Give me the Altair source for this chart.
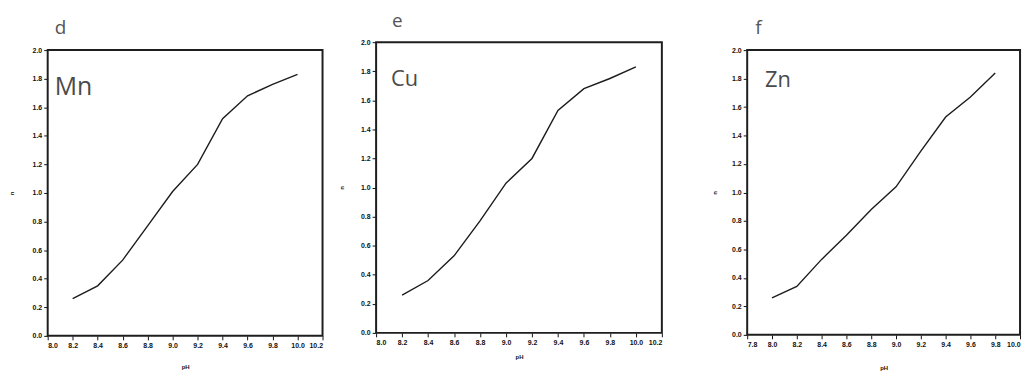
import altair as alt
import pandas as pd

# ---- data ----
ph_mn = [8.2, 8.4, 8.6, 8.8, 9.0, 9.2, 9.4, 9.6, 9.8, 10.0]
n_mn = [0.26, 0.35, 0.53, 0.77, 1.01, 1.20, 1.52, 1.68, 1.76, 1.83]

ph_cu = [8.2, 8.4, 8.6, 8.8, 9.0, 9.2, 9.4, 9.6, 9.8, 10.0]
n_cu = [0.26, 0.36, 0.53, 0.77, 1.03, 1.20, 1.53, 1.68, 1.75, 1.83]

ph_zn = [8.0, 8.2, 8.4, 8.6, 8.8, 9.0, 9.2, 9.4, 9.6, 9.8]
n_zn = [0.26, 0.34, 0.53, 0.70, 0.88, 1.04, 1.29, 1.53, 1.67, 1.84]

x_ticks_de = [8.0, 8.2, 8.4, 8.6, 8.8, 9.0, 9.2, 9.4, 9.6, 9.8, 10.0, 10.2]
x_ticks_f = [7.8, 8.0, 8.2, 8.4, 8.6, 8.8, 9.0, 9.2, 9.4, 9.6, 9.8, 10.0]
y_ticks = [0.0, 0.2, 0.4, 0.6, 0.8, 1.0, 1.2, 1.4, 1.6, 1.8, 2.0]

panel_letters = ["d", "e", "f"]
metals = ["Mn", "Cu", "Zn"]

FRAME = "#1e1e1e"


def panel(ph, n, xdom, xticks, letter, metal, W, H, top, L, R, T, B,
          ytx, xty, letter_x, letter_y, metal_x, metal_y, metal_size):
    """top: pixel position (view coords) of the y=2.0 edge of the frame (<=0)."""
    df = pd.DataFrame({"pH": ph, "n": n})
    x = alt.X(
        "pH:Q",
        scale=alt.Scale(domain=xdom, nice=False, zero=False),
        axis=alt.Axis(values=xticks, format=".1f", title="pH",
                      titleY=xty, titleBaseline="middle"),
    )
    y = alt.Y(
        "n:Q",
        scale=alt.Scale(domain=[0, 2], nice=False, range=[H, top]),
        axis=alt.Axis(values=y_ticks, format=".1f", title="n",
                      titleX=ytx, titleY=(H + top) / 2, titleBaseline="middle"),
    )
    line = alt.Chart(df).mark_line(color="#1c1c1c", strokeWidth=1.4).encode(x=x, y=y)
    one = pd.DataFrame({"a": [0]})
    frame = alt.Chart(one).mark_rect(
        filled=False, color=FRAME, stroke=FRAME, strokeWidth=2
    ).encode(x=alt.value(0), x2=alt.value(W), y=alt.value(top), y2=alt.value(H))
    lab = pd.DataFrame({"t": [letter]})
    letter_mark = alt.Chart(lab).mark_text(
        align="left", baseline="alphabetic", font="Open Sans",
        fontSize=19, color="#555555"
    ).encode(text="t:N", x=alt.value(letter_x), y=alt.value(letter_y))
    met = pd.DataFrame({"t": [metal]})
    metal_mark = alt.Chart(met).mark_text(
        align="left", baseline="alphabetic", font="Open Sans",
        fontSize=metal_size, color="#4a4a4a"
    ).encode(text="t:N", x=alt.value(metal_x), y=alt.value(metal_y))
    spacer = alt.Chart(one).mark_rule(opacity=0, strokeWidth=0.1).encode(
        x=alt.value(-L), x2=alt.value(W + R), y=alt.value(-T), y2=alt.value(H + B)
    )
    return alt.layer(frame, line, letter_mark, metal_mark, spacer).properties(
        width=W, height=H
    )


pd_ = panel(ph_mn, n_mn, [8.0, 10.2], x_ticks_de, panel_letters[0], metals[0],
            277, 288, 0, 40, 10, 41, 34, -36, 31, 7, -16, 7, 45, 25)
pe_ = panel(ph_cu, n_cu, [8.0, 10.2], x_ticks_de, panel_letters[1], metals[1],
            288, 285, -8, 44, 48, 41, 37, -35, 24, 16, -23, 15, 36, 22)
pf_ = panel(ph_zn, n_zn, [7.8, 10.0], x_ticks_f, panel_letters[2], metals[2],
            275, 287, 0, 38, 6, 41, 35, -33, 33, 8, -16, 18, 37, 22)

chart = (
    alt.hconcat(pd_, pe_, pf_, spacing=0)
    .properties(padding=0, background="white")
    .configure_view(stroke=None)
    .configure_axis(
        grid=False,
        domain=False,
        ticks=True,
        tickColor="#111111",
        tickSize=4,
        tickWidth=1,
        labelFont="Liberation Sans",
        labelFontWeight="bold",
        labelFontSize=7,
        labelColor="#111111",
        labelPadding=2,
        titleFont="Liberation Sans",
        titleFontWeight="bold",
        titleFontSize=6,
        titleColor="#111111",
    )
)

chart.save("out.html", embed_options={"renderer": "svg", "actions": False})
